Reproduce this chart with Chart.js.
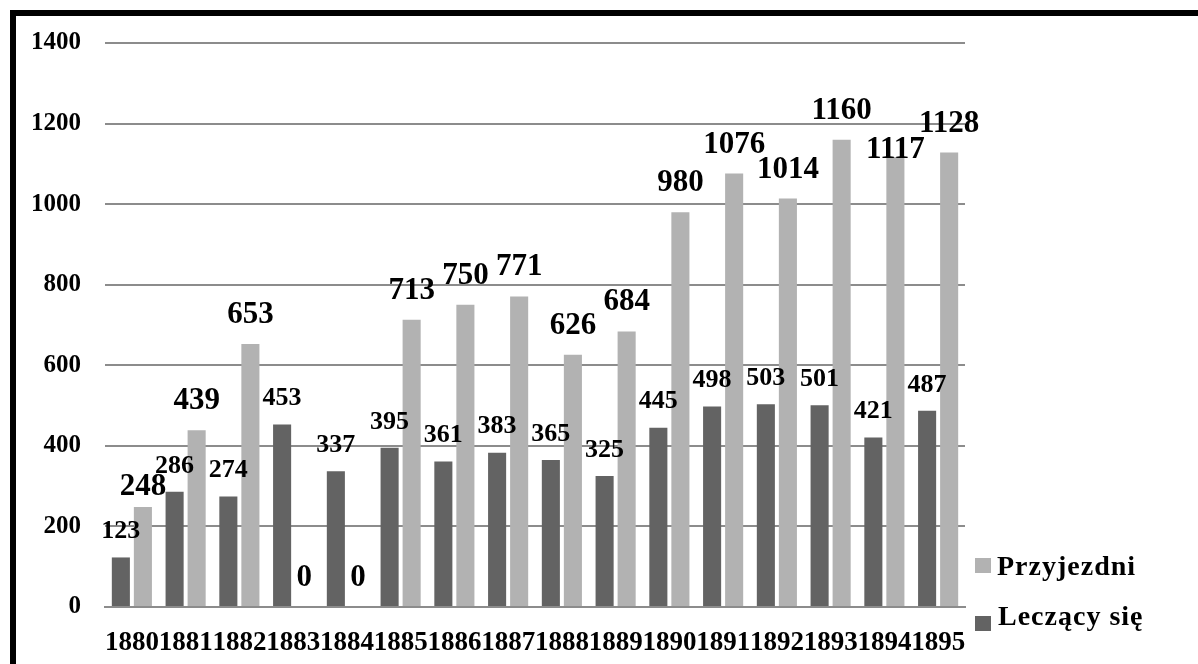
<!DOCTYPE html>
<html>
<head>
<meta charset="utf-8">
<script src="https://cdn.jsdelivr.net/npm/chart.js@4/dist/chart.umd.min.js"></script>
<style>
html,body{margin:0;padding:0;background:#fff;overflow:hidden;}
#wrap{position:relative;width:1198px;height:664px;}
#frame{position:absolute;left:10px;top:10px;width:1400px;height:900px;border:6px solid #000;box-sizing:border-box;pointer-events:none;}
</style>
</head>
<body>
<div id="wrap"><canvas id="c"></canvas><div id="frame"></div></div>
<script>
const years = ['1880','1881','1882','1883','1884','1885','1886','1887','1888','1889','1890','1891','1892','1893','1894','1895'];
const leczacySie = [123, 286, 274, 453, 337, 395, 361, 383, 365, 325, 445, 498, 503, 501, 421, 487];
const przyjezdni = [248, 439, 653, 0, 0, 713, 750, 771, 626, 684, 980, 1076, 1014, 1160, 1117, 1128];
const yTicks = [0, 200, 400, 600, 800, 1000, 1200, 1400];

const DARK = '#636363';
const LIGHT = '#b2b2b2';
const FONT = "'Liberation Serif', 'Times New Roman', serif";

const labelPlugin = {
  id: 'valueLabels',
  afterDatasetsDraw(chart) {
    const ctx = chart.ctx;
    const styles = [
      {size: 26, lift: 26, over: {}},
      {size: 31, lift: 29, over: {0: 20, 14: 7}}
    ];
    chart.data.datasets.forEach((ds, di) => {
      const meta = chart.getDatasetMeta(di);
      const st = styles[di];
      ctx.save();
      ctx.font = 'bold ' + st.size + 'px ' + FONT;
      ctx.fillStyle = '#000';
      ctx.textAlign = 'center';
      ctx.textBaseline = 'middle';
      meta.data.forEach((el, i) => {
        const lift = (st.over[i] !== undefined) ? st.over[i] : st.lift;
        ctx.fillText(String(ds.data[i]), el.x, el.y - lift);
      });
      ctx.restore();
    });
  },
  afterDraw(chart) {
    const ctx = chart.ctx;
    const items = [
      {text: chart.data.datasets[1].label, color: LIGHT, sx: 975, sy: 558, tx: 997, ty: 575},
      {text: chart.data.datasets[0].label, color: DARK, sx: 975, sy: 616, tx: 998, ty: 625}
    ];
    ctx.save();
    ctx.font = 'bold 28px ' + FONT;
    ctx.textAlign = 'left';
    ctx.textBaseline = 'alphabetic';
    try { ctx.letterSpacing = '1px'; } catch (e) {}
    items.forEach(it => {
      ctx.fillStyle = it.color;
      ctx.fillRect(it.sx, it.sy, 16, 15);
      ctx.fillStyle = '#000';
      ctx.fillText(it.text, it.tx, it.ty);
    });
    ctx.restore();
  }
};

new Chart(document.getElementById('c'), {
  type: 'bar',
  data: {
    labels: years,
    datasets: [
      {label: 'Leczący się', data: leczacySie, backgroundColor: DARK, categoryPercentage: 0.82, barPercentage: 0.82},
      {label: 'Przyjezdni', data: przyjezdni, backgroundColor: LIGHT, categoryPercentage: 0.82, barPercentage: 0.82}
    ]
  },
  options: {
    responsive: true,
    maintainAspectRatio: false,
    animation: false,
    layout: {padding: {left: 0, top: 43, right: 233, bottom: 0}},
    plugins: {legend: {display: false}, tooltip: {enabled: false}},
    scales: {
      x: {
        grid: {display: false, drawTicks: false},
        border: {display: true, color: '#8c8c8c', width: 2},
        ticks: {color: '#000', font: {family: FONT, size: 27, weight: 'bold'}, padding: 20, maxRotation: 0, autoSkip: false},
        afterFit(s) { s.height = 57; }
      },
      y: {
        min: 0, max: 1400,
        afterBuildTicks(s) { s.ticks = yTicks.map(v => ({value: v})); },
        grid: {color: '#8c8c8c', lineWidth: 2, drawTicks: false},
        border: {display: false},
        ticks: {color: '#000', font: {family: FONT, size: 25, weight: 'bold'}, padding: 24, callback: v => String(v)},
        afterFit(s) { s.width = 105; }
      }
    }
  },
  plugins: [labelPlugin]
});
</script>
</body>
</html>
